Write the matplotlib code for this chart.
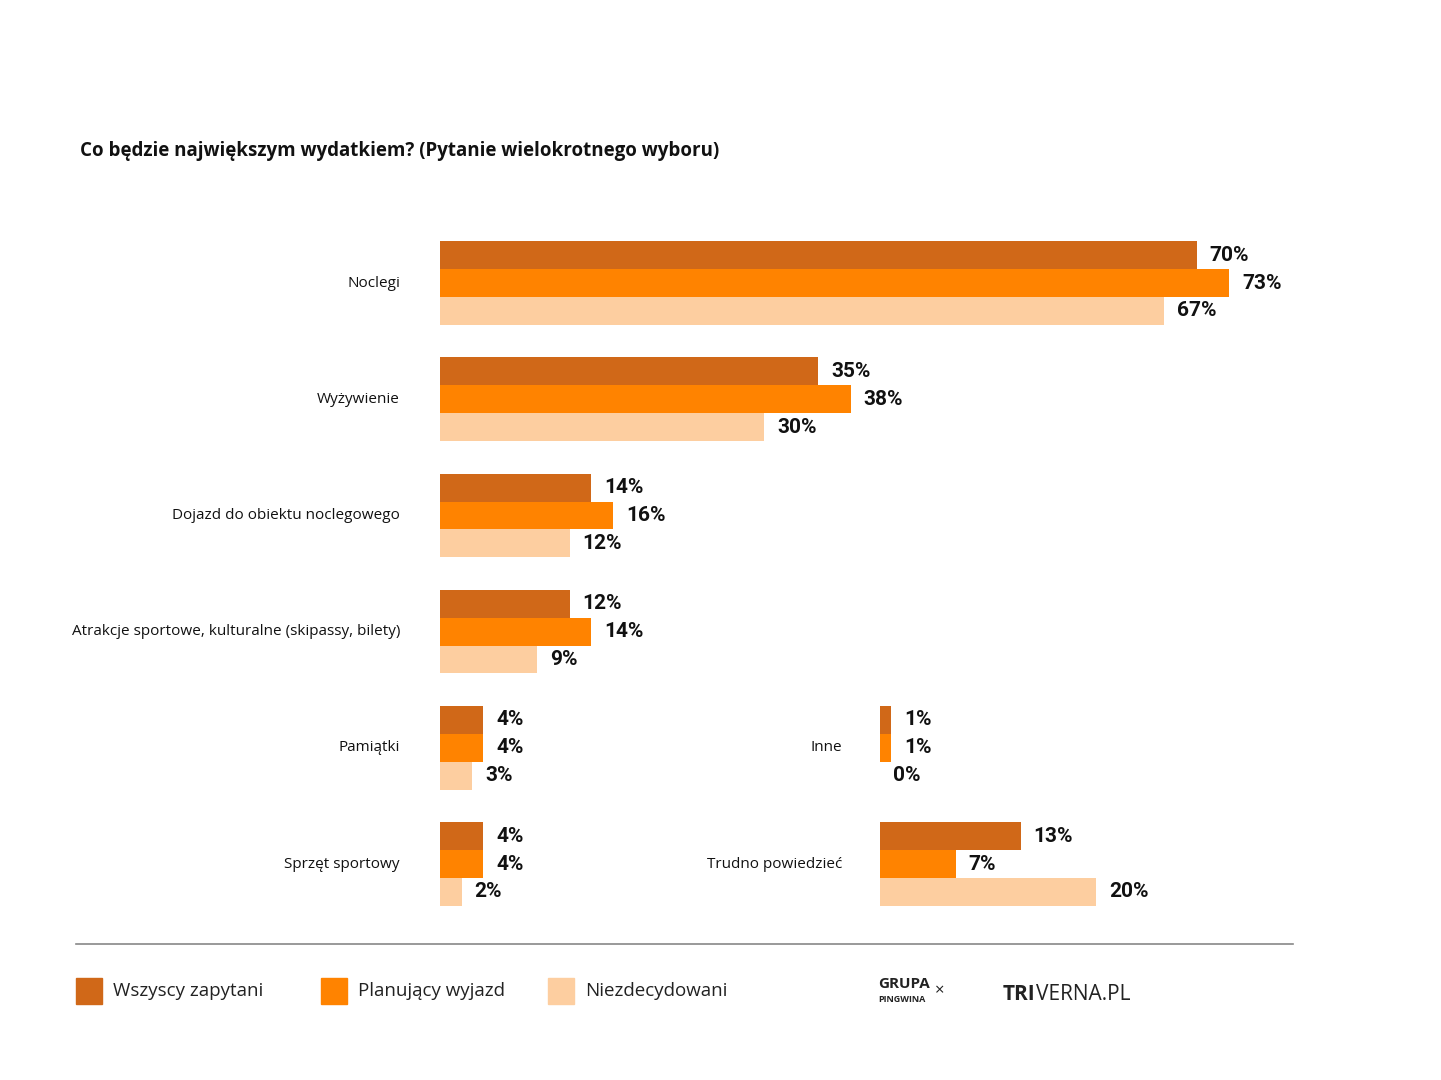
import matplotlib.pyplot as plt
from matplotlib.patches import Rectangle

plt.rcParams['font.family'] = ['Open Sans', 'DejaVu Sans']

# left column categories
left_cats = ['Noclegi', 'Wyżywienie', 'Dojazd do obiektu noclegowego',
             'Atrakcje sportowe, kulturalne (skipassy, bilety)', 'Pamiątki', 'Sprzęt sportowy']
left_all = [70, 35, 14, 12, 4, 4]
left_plan = [73, 38, 16, 14, 4, 4]
left_undec = [67, 30, 12, 9, 3, 2]

# right column categories (rows 4 and 5)
right_cats = ['Inne', 'Trudno powiedzieć']
right_rows = [4, 5]
right_all = [1, 13]
right_plan = [1, 7]
right_undec = [0, 20]

series_names = ['Wszyscy zapytani', 'Planujący wyjazd', 'Niezdecydowani']
colors = ['#D06818', '#FF8300', '#FDCEA0']

W, H = 1441, 1080
fig = plt.figure(figsize=(W / 100, H / 100), dpi=100)

def px_axes(x0, x1, y0, y1):
    return fig.add_axes([x0 / W, 1 - y1 / H, (x1 - x0) / W, (y1 - y0) / H])

ax_l = px_axes(440, 1440, 225, 925)
ax_r = px_axes(880, 1440, 225, 925)
ppp = 10.81  # pixels per percent

for ax, width in ((ax_l, 1000), (ax_r, 560)):
    ax.set_xlim(0, width / ppp)
    ax.set_ylim(5.525, -0.5)
    ax.axis('off')
    ax.patch.set_alpha(0)

bh = 0.24
offs = [-bh, 0, bh]

def draw(ax, rows, cats, vals_list, label_off):
    for r, cat in zip(rows, cats):
        ax.annotate(cat, xy=(0, r), xytext=(label_off, 0), textcoords='offset pixels',
                    ha='right', va='center', fontsize=11, color='#111111')
    for vals, c, o in zip(vals_list, colors, offs):
        ys = [r + o for r in rows]
        ax.barh(ys, vals, height=bh, color=c, edgecolor='none')
        for y, v in zip(ys, vals):
            ax.annotate(f'{v}%', xy=(v, y), xytext=(13, 0), textcoords='offset pixels',
                        ha='left', va='center', fontsize=15, fontweight='bold',
                        color='#111111', family=['Roboto', 'DejaVu Sans'])

draw(ax_l, list(range(6)), left_cats, [left_all, left_plan, left_undec], -40)
draw(ax_r, right_rows, right_cats, [right_all, right_plan, right_undec], -38)

fig.text(80 / W, 1 - 151 / H, 'Co będzie największym wydatkiem? (Pytanie wielokrotnego wyboru)',
         fontsize=13.5, fontweight='bold', va='center', ha='left', color='#111111')

fig.add_artist(plt.Line2D([76 / W, 1293 / W], [1 - 944 / H] * 2, color='#888888', lw=1.2))

for name, c, x in zip(series_names, colors, [76, 321, 548]):
    fig.add_artist(Rectangle((x / W, 1 - 1004 / H), 26 / W, 26 / H, color=c,
                             transform=fig.transFigure))
    fig.text((x + 37) / W, 1 - 991 / H, name, fontsize=13.5, va='center', ha='left',
             color='#222222')

fig.text(878 / W, 1 - 984 / H, 'GRUPA', fontsize=11, fontweight='bold', va='center', color='#222222')
fig.text(878 / W, 1 - 999 / H, 'PINGWINA', fontsize=6.5, fontweight='bold', va='center', color='#222222')
fig.text(935 / W, 1 - 991 / H, '×', fontsize=12, va='center', color='#222222')
fig.text(1003 / W, 1 - 994 / H, 'TRI', fontsize=15, fontweight='bold', va='center', color='#222222')
fig.text(1036 / W, 1 - 994 / H, 'VERNA.PL', fontsize=15, va='center', color='#222222')

fig.savefig('out.png', dpi=100, facecolor='white')
